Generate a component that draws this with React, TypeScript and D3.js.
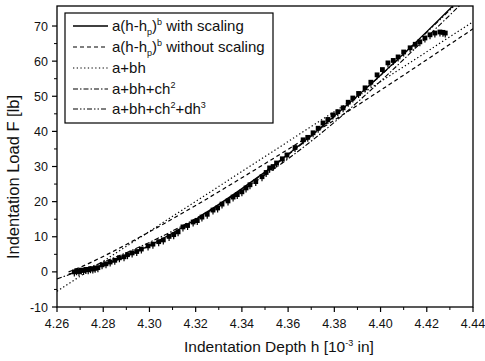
import * as d3 from "d3";
import { useEffect } from "react";

// measured data (indentation depth in 10^-3 in, load in lb)
const depthH = [
  4.2675, 4.2685, 4.2695, 4.2705, 4.2715, 4.2725, 4.2735, 4.2745, 4.2755, 4.2765,
  4.2777, 4.2795, 4.2812, 4.283, 4.285, 4.287, 4.289, 4.2905, 4.2925, 4.2945,
  4.2965, 4.2994, 4.3015, 4.304, 4.306, 4.3085, 4.3105, 4.3124, 4.3145, 4.3165,
  4.3189, 4.3207, 4.3227, 4.325, 4.3275, 4.3295, 4.3314, 4.334, 4.3362, 4.338,
  4.34, 4.3418, 4.3435, 4.346, 4.3487, 4.3505, 4.352, 4.3535, 4.355, 4.3575,
  4.3595, 4.363, 4.3665, 4.3685, 4.3708, 4.373, 4.3751, 4.3772, 4.3794, 4.3815,
  4.3838, 4.386, 4.388, 4.3905, 4.3933, 4.3958, 4.3985, 4.4008, 4.4032, 4.4055,
  4.4076, 4.41, 4.4128, 4.415, 4.417, 4.4192, 4.4214, 4.4235, 4.4257, 4.427, 4.428,
];
const loadF = [
  0.0, 0.3, 0.1, 0.5, 0.4, 0.7, 0.6, 0.9, 0.8, 1.0,
  1.2, 2.0, 2.3, 2.8, 3.3, 4.0, 4.3, 4.9, 5.4, 5.8,
  6.5, 7.4, 7.9, 8.6, 9.1, 10.1, 10.6, 11.4, 12.8, 13.2,
  14.2, 14.6, 15.6, 16.4, 17.6, 18.2, 19.3, 20.2, 21.3, 22.0,
  22.8, 23.9, 24.8, 25.7, 27.1, 28.3, 29.6, 30.0, 31.0, 32.2,
  33.3, 35.4, 37.6, 38.3, 39.6, 40.9, 42.4, 43.4, 44.7, 45.6,
  46.7, 48.3, 49.5, 50.8, 52.4, 54.0, 56.1, 57.6, 59.5, 60.2,
  61.2, 62.6, 63.8, 64.8, 65.5, 66.6, 67.5, 68.0, 68.3, 68.2, 68.0,
];

// fitted curves
const withScalingH = [4.268, 4.272, 4.28, 4.3, 4.32, 4.34, 4.36, 4.38, 4.4, 4.42, 4.44];
const withScalingF = [0, 0.4, 1.9, 7.5, 15.0, 23.7, 33.5, 44.4, 56.0, 68.4, 81.5];
const noScalingH = [4.265, 4.27, 4.28, 4.3, 4.32, 4.34, 4.36, 4.38, 4.4, 4.42, 4.44];
const noScalingF = [0, 1.3, 4.4, 11.4, 18.9, 26.8, 34.9, 43.2, 51.7, 60.4, 69.2];
const linearH = [4.26, 4.44];
const linearF = [-5.5, 71.2];
const quadH = [4.26, 4.28, 4.3, 4.32, 4.34, 4.36, 4.38, 4.4, 4.42, 4.44];
const quadF = [-2.0, 2.8, 8.4, 15.2, 23.2, 32.2, 42.6, 54.3, 66.8, 79.5];
const cubicH = [4.265, 4.28, 4.3, 4.32, 4.34, 4.36, 4.38, 4.4, 4.42, 4.44];
const cubicF = [-0.6, 2.0, 7.4, 14.8, 23.5, 33.3, 44.2, 55.9, 68.2, 81.0];

const xTicks = [4.26, 4.28, 4.3, 4.32, 4.34, 4.36, 4.38, 4.4, 4.42, 4.44];
const yTicks = [-10, 0, 10, 20, 30, 40, 50, 60, 70];

const W = 485;
const H = 361;
const FONT = "'Liberation Sans', Arial, Helvetica, sans-serif";

export default function App() {
  useEffect(() => {
    document.body.style.margin = "0";
  }, []);

  const x = d3.scaleLinear().domain([4.26, 4.44]).range([57, 473]);
  const y = d3.scaleLinear().domain([-10, 75.7]).range([307, 6]);

  const line = d3
    .line<[number, number]>()
    .x((d) => x(d[0]))
    .y((d) => y(d[1]))
    .curve(d3.curveMonotoneX);

  const zip = (a: number[], b: number[]) => a.map((v, i) => [v, b[i]] as [number, number]);

  const fits = [
    { label: "scaling", pts: zip(withScalingH, withScalingF), dash: "none", w: 1.3 },
    { label: "noscaling", pts: zip(noScalingH, noScalingF), dash: "4,3", w: 1.2 },
    { label: "linear", pts: zip(linearH, linearF), dash: "1.3,2.4", w: 1.2 },
    { label: "quad", pts: zip(quadH, quadF), dash: "5,2,1.5,2", w: 1.1 },
    { label: "cubic", pts: zip(cubicH, cubicF), dash: "5,2,1.5,2,1.5,2", w: 1.1 },
  ];

  const xMinor = d3.range(4.27, 4.44, 0.02);
  const yMinor = d3.range(-5, 75, 10);

  const legendRows = [26, 47, 68, 89, 109];
  const lx0 = 73, lx1 = 108, tx = 112;

  return (
    <svg width={W} height={H} style={{ display: "block", background: "#fff" }} fontFamily={FONT}>
      <defs>
        <clipPath id="plot">
          <rect x={57} y={6} width={416} height={301} />
        </clipPath>
      </defs>

      {/* frame */}
      <rect x={57} y={6} width={416} height={301} fill="none" stroke="#000" strokeWidth={1.3} />

      {/* x axis ticks */}
      {xTicks.map((t) => (
        <g key={"xt" + t}>
          <line x1={x(t)} x2={x(t)} y1={307} y2={312} stroke="#000" strokeWidth={1.2} />
          <text x={x(t)} y={328} fontSize={12.5} textAnchor="middle" fill="#111">
            {t.toFixed(2)}
          </text>
        </g>
      ))}
      {xMinor.map((t) => (
        <line key={"xm" + t} x1={x(t)} x2={x(t)} y1={307} y2={310} stroke="#000" strokeWidth={1} />
      ))}

      {/* y axis ticks */}
      {yTicks.map((t) => (
        <g key={"yt" + t}>
          <line x1={52} x2={57} y1={y(t)} y2={y(t)} stroke="#000" strokeWidth={1.2} />
          <text x={48} y={y(t) + 4.5} fontSize={12.5} textAnchor="end" fill="#111">
            {t}
          </text>
        </g>
      ))}
      {yMinor.map((t) => (
        <line key={"ym" + t} x1={54} x2={57} y1={y(t)} y2={y(t)} stroke="#000" strokeWidth={1} />
      ))}

      {/* axis titles */}
      <text x={279} y={352} fontSize={15.5} textAnchor="middle" fill="#111">
        Indentation Depth h [10
        <tspan fontSize={9} dy={-6}>-3</tspan>
        <tspan dy={6}> in]</tspan>
      </text>
      <text
        transform={`translate(19,${177}) rotate(-90)`}
        fontSize={16.5}
        textAnchor="middle"
        fill="#111"
      >
        Indentation Load F [lb]
      </text>

      <g clipPath="url(#plot)">
        {/* data */}
        {depthH.map((h, i) => (
          <g key={"p" + i}>
            <rect x={x(h) - 2.4} y={y(loadF[i]) - 2.4} width={4.8} height={4.8} fill="#000" />
            <line x1={x(h)} x2={x(h)} y1={y(loadF[i])} y2={y(loadF[i]) + 4.5} stroke="#000" strokeWidth={1.2} />
          </g>
        ))}
        {/* fits */}
        {fits.map((f) => (
          <path
            key={f.label}
            d={line(f.pts) ?? ""}
            fill="none"
            stroke="#000"
            strokeWidth={f.w}
            strokeDasharray={f.dash}
          />
        ))}
      </g>

      {/* legend */}
      <rect x={65} y={13} width={208} height={110} fill="#fff" stroke="#000" strokeWidth={1.2} />
      {fits.map((f, i) => (
        <line
          key={"lg" + f.label}
          x1={lx0}
          x2={lx1}
          y1={legendRows[i]}
          y2={legendRows[i]}
          stroke="#000"
          strokeWidth={f.w}
          strokeDasharray={f.dash}
        />
      ))}
      <g fontSize={15} fill="#111">
        <text x={tx} y={legendRows[0] + 5}>
          a(h-h<tspan fontSize={9} dy={4}>p</tspan>
          <tspan dy={-4}>)</tspan>
          <tspan fontSize={9} dy={-6}>b</tspan>
          <tspan dy={6}> with scaling</tspan>
        </text>
        <text x={tx} y={legendRows[1] + 5}>
          a(h-h<tspan fontSize={9} dy={4}>p</tspan>
          <tspan dy={-4}>)</tspan>
          <tspan fontSize={9} dy={-6}>b</tspan>
          <tspan dy={6}> without scaling</tspan>
        </text>
        <text x={tx} y={legendRows[2] + 5}>a+bh</text>
        <text x={tx} y={legendRows[3] + 5}>
          a+bh+ch<tspan fontSize={9} dy={-6}>2</tspan>
        </text>
        <text x={tx} y={legendRows[4] + 5}>
          a+bh+ch<tspan fontSize={9} dy={-6}>2</tspan>
          <tspan dy={6}>+dh</tspan>
          <tspan fontSize={9} dy={-6}>3</tspan>
        </text>
      </g>
    </svg>
  );
}
